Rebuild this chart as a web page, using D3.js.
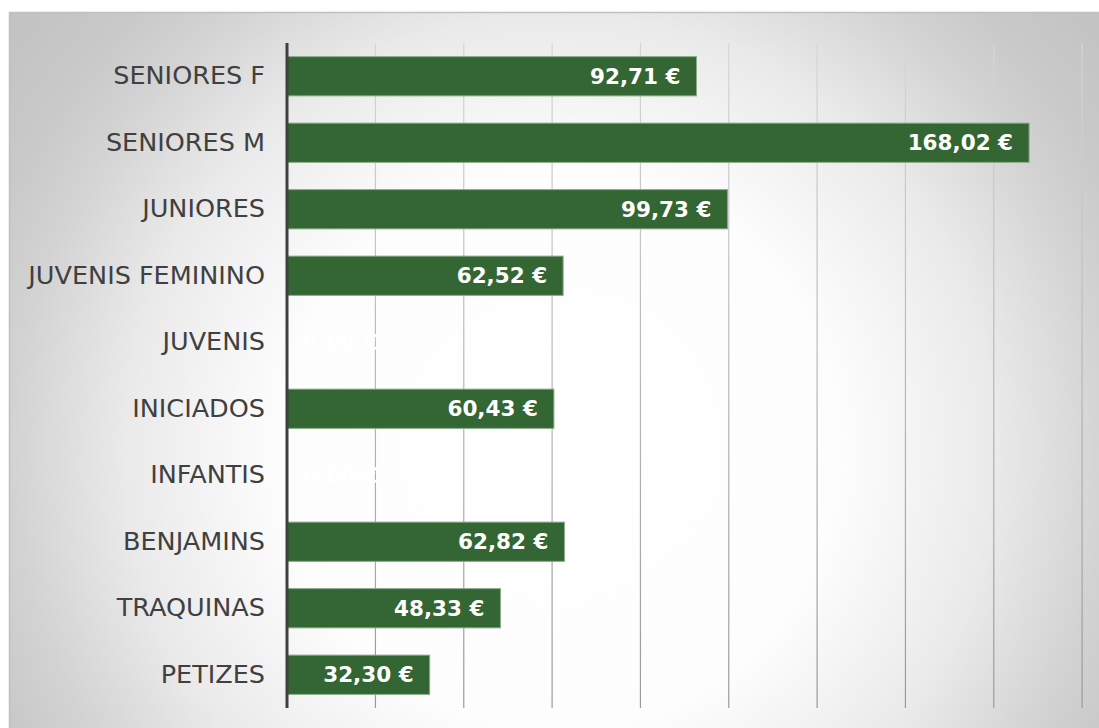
<!DOCTYPE html>
<html><head><meta charset="utf-8">
<script src="https://cdn.jsdelivr.net/npm/d3@7"></script>
<style>html,body{margin:0;padding:0;background:#fff;overflow:hidden}</style>
</head><body>
<script>
const categories = ["SENIORES F","SENIORES M","JUNIORES","JUVENIS FEMININO","JUVENIS","INICIADOS","INFANTIS","BENJAMINS","TRAQUINAS","PETIZES"];
const values = [92.71,168.02,99.73,62.52,0,60.43,0,62.82,48.33,32.30];
const tickValues = [0,20,40,60,80,100,120,140,160,180];

const W=1099,H=728;
const svg=d3.select("body").append("svg").attr("width",W).attr("height",H);
const defs=svg.append("defs");
const g=defs.append("radialGradient").attr("id","bg").attr("gradientUnits","userSpaceOnUse")
  .attr("cx",560).attr("cy",450).attr("r",700);
[[0,"#ffffff"],[0.4,"#fdfdfd"],[0.62,"#eaeaea"],[0.78,"#d3d3d3"],[0.87,"#c9c9c9"],[1,"#c2c2c2"]]
  .forEach(([o,c])=>g.append("stop").attr("offset",o).attr("stop-color",c));
const gg=defs.append("linearGradient").attr("id","grid").attr("gradientUnits","userSpaceOnUse")
  .attr("x1",0).attr("y1",43).attr("x2",0).attr("y2",708);
gg.append("stop").attr("offset",0).attr("stop-color","#d6d6d6");
gg.append("stop").attr("offset",0.5).attr("stop-color","#b8b8b8");
gg.append("stop").attr("offset",1).attr("stop-color","#9a9a9a");

svg.append("rect").attr("x",9.5).attr("y",12.5).attr("width",W).attr("height",H)
  .attr("fill","url(#bg)").attr("stroke","#c0c0c0").attr("stroke-width",1.5);

const x=d3.scaleLinear().domain([0,180]).range([287,1082]);
const y=d3.scaleBand().domain(categories).range([43,708]).paddingInner(0.41).paddingOuter(0.205);

// gridlines
svg.append("g").selectAll("rect").data(tickValues.filter(d=>d>0)).join("rect")
  .attr("x",d=>x(d)-0.5).attr("width",1.2).attr("y",43).attr("height",665)
  .attr("fill","url(#grid)");

// bars
svg.append("g").selectAll("rect").data(values).join("rect")
  .attr("x",x(0)).attr("y",(d,i)=>y(categories[i]))
  .attr("width",d=>x(d)-x(0)).attr("height",y.bandwidth())
  .attr("fill",d=>d>0?"#336633":"none").attr("stroke",d=>d>0?"#8aaa8a":"none").attr("stroke-width",1);

// axis line
svg.append("line").attr("x1",287).attr("x2",287).attr("y1",43).attr("y2",708)
  .attr("stroke","#404040").attr("stroke-width",3);

// category labels
const yAxis=d3.axisLeft(y).tickSize(0).tickPadding(22);
const ya=svg.append("g").attr("transform","translate(287,0)").call(yAxis);
ya.select(".domain").remove();
ya.selectAll("text").attr("font-family","DejaVu Sans, Verdana, sans-serif").attr("font-size",25.5)
  .attr("fill","#404040");

const fmt=v=>v.toFixed(2).replace(".",",")+" €";
svg.append("g").selectAll("text").data(values).join("text")
  .attr("x",d=>d>0?x(d)-16:x(0)+16)
  .attr("y",(d,i)=>y(categories[i])+y.bandwidth()/2)
  .attr("dy","0.36em")
  .attr("text-anchor",d=>d>0?"end":"start")
  .attr("font-family","DejaVu Sans, Verdana, sans-serif").attr("font-weight","bold").attr("font-size",21.5)
  .attr("fill","#ffffff").text(d=>fmt(d));
</script>
</body></html>
